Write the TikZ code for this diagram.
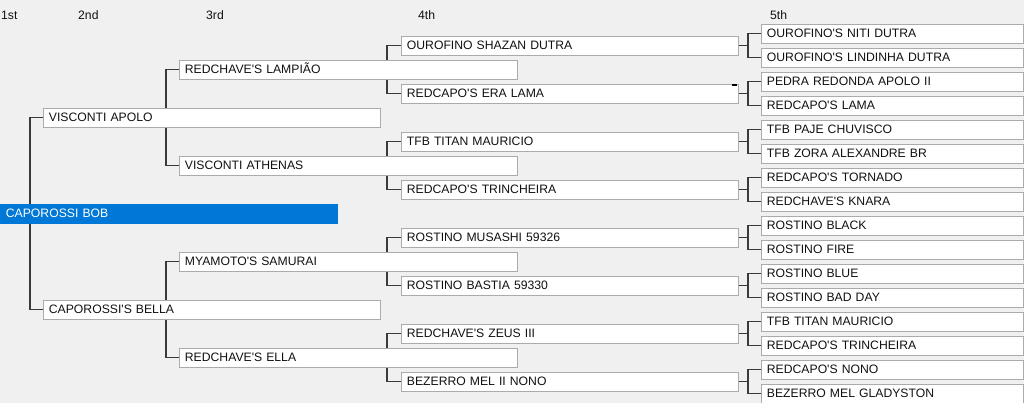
\documentclass[tikz,border=0pt]{standalone}
\usepackage{fontspec}
\setmainfont{Liberation Sans}[Ligatures=TeXOff]
\definecolor{bgc}{HTML}{F0F0F0}
\definecolor{selc}{HTML}{0078D7}
\definecolor{bordc}{HTML}{ABABAB}
\definecolor{conncol}{HTML}{3A3A3A}
\definecolor{txtc}{HTML}{111111}
\pgfdeclarelayer{bgl}
\pgfdeclarelayer{conl}
\pgfsetlayers{bgl,conl,main}
\begin{document}
\begin{tikzpicture}[x=1pt,y=-1pt,
  pbox/.style={draw=bordc,line width=0.8pt,fill=white,anchor=west,
    minimum height=19pt,inner xsep=5.5pt,inner ysep=0pt,align=left,
    text height=8.8pt,text depth=0pt,text=txtc,
    font=\fontsize{12.2}{14}\selectfont,text width=#1},
  pbox/.default=326pt,
  selbox/.style={pbox,fill=selc,draw=selc,text=white},
  hdr/.style={anchor=west,inner sep=0pt,text=txtc,font=\fontsize{12.2}{14}\selectfont},
  link/.style={draw=conncol,line width=1.2pt}]
\begin{pgfonlayer}{bgl}
\fill[bgc] (0,0) rectangle (1024,403);
\end{pgfonlayer}
\useasboundingbox (0,0) rectangle (1024,403);

% headers
\node[hdr] (h1) at (1,15) {1st};
\node[hdr] (h2) at (78,15) {2nd};
\node[hdr] (h3) at (206,15) {3rd};
\node[hdr] (h4) at (418,15) {4th};
\node[hdr] (h5) at (770,15) {5th};

% gen 1
\node[selbox] (g1) at (0,213.5) {CAPOROSSI BOB};
% gen 2
\node[pbox] (g2a) at (43,117.5) {VISCONTI APOLO};
\node[pbox] (g2b) at (43,309.5) {CAPOROSSI'S BELLA};
% gen 3
\node[pbox=327pt] (g3a) at (179,69.5) {REDCHAVE'S LAMPIÃO};
\node[pbox=327pt] (g3b) at (179,165.5) {VISCONTI ATHENAS};
\node[pbox=327pt] (g3c) at (179,261.5) {MYAMOTO'S SAMURAI};
\node[pbox=327pt] (g3d) at (179,357.5) {REDCHAVE'S ELLA};
% gen 4
\node[pbox] (g4a) at (401,45.5) {OUROFINO SHAZAN DUTRA};
\node[pbox] (g4b) at (401,93.5) {REDCAPO'S ERA LAMA};
\node[pbox] (g4c) at (401,141.5) {TFB TITAN MAURICIO};
\node[pbox] (g4d) at (401,189.5) {REDCAPO'S TRINCHEIRA};
\node[pbox] (g4e) at (401,237.5) {ROSTINO MUSASHI 59326};
\node[pbox] (g4f) at (401,285.5) {ROSTINO BASTIA 59330};
\node[pbox] (g4g) at (401,333.5) {REDCHAVE'S ZEUS III};
\node[pbox] (g4h) at (401,381.5) {BEZERRO MEL II NONO};
% gen 5
\node[pbox=251pt] (g5a) at (761,33.5) {OUROFINO'S NITI DUTRA};
\node[pbox=251pt] (g5b) at (761,57.5) {OUROFINO'S LINDINHA DUTRA};
\node[pbox=251pt] (g5c) at (761,81.5) {PEDRA REDONDA APOLO II};
\node[pbox=251pt] (g5d) at (761,105.5) {REDCAPO'S LAMA};
\node[pbox=251pt] (g5e) at (761,129.5) {TFB PAJE CHUVISCO};
\node[pbox=251pt] (g5f) at (761,153.5) {TFB ZORA ALEXANDRE BR};
\node[pbox=251pt] (g5g) at (761,177.5) {REDCAPO'S TORNADO};
\node[pbox=251pt] (g5h) at (761,201.5) {REDCHAVE'S KNARA};
\node[pbox=251pt] (g5i) at (761,225.5) {ROSTINO BLACK};
\node[pbox=251pt] (g5j) at (761,249.5) {ROSTINO FIRE};
\node[pbox=251pt] (g5k) at (761,273.5) {ROSTINO BLUE};
\node[pbox=251pt] (g5l) at (761,297.5) {ROSTINO BAD DAY};
\node[pbox=251pt] (g5m) at (761,321.5) {TFB TITAN MAURICIO};
\node[pbox=251pt] (g5n) at (761,345.5) {REDCAPO'S TRINCHEIRA};
\node[pbox=251pt] (g5o) at (761,369.5) {REDCAPO'S NONO};
\node[pbox=251pt] (g5p) at (761,393.5) {BEZERRO MEL GLADYSTON};

% small mark
\fill[black] (732,84) rectangle (737,86.5);

\begin{pgfonlayer}{conl}
\draw[link] (g2a.west) -- ++(-13,0) |- (g2b.west);
\draw[link] (g3a.west) -- ++(-13,0) |- (g3b.west);
\draw[link] (g3c.west) -- ++(-13,0) |- (g3d.west);
\draw[link] (g4a.west) -- ++(-14,0) |- (g4b.west);
\draw[link] (g4c.west) -- ++(-14,0) |- (g4d.west);
\draw[link] (g4e.west) -- ++(-14,0) |- (g4f.west);
\draw[link] (g4g.west) -- ++(-14,0) |- (g4h.west);
\draw[link] (g5a.west) -- ++(-13,0) |- (g5b.west);
\draw[link] (g5c.west) -- ++(-13,0) |- (g5d.west);
\draw[link] (g5e.west) -- ++(-13,0) |- (g5f.west);
\draw[link] (g5g.west) -- ++(-13,0) |- (g5h.west);
\draw[link] (g5i.west) -- ++(-13,0) |- (g5j.west);
\draw[link] (g5k.west) -- ++(-13,0) |- (g5l.west);
\draw[link] (g5m.west) -- ++(-13,0) |- (g5n.west);
\draw[link] (g5o.west) -- ++(-13,0) |- (g5p.west);
\draw[link] (g4a.east) -- ++(10,0);
\draw[link] (g4b.east) -- ++(10,0);
\draw[link] (g4c.east) -- ++(10,0);
\draw[link] (g4d.east) -- ++(10,0);
\draw[link] (g4e.east) -- ++(10,0);
\draw[link] (g4f.east) -- ++(10,0);
\draw[link] (g4g.east) -- ++(10,0);
\draw[link] (g4h.east) -- ++(10,0);
\end{pgfonlayer}
\end{tikzpicture}
\end{document}
